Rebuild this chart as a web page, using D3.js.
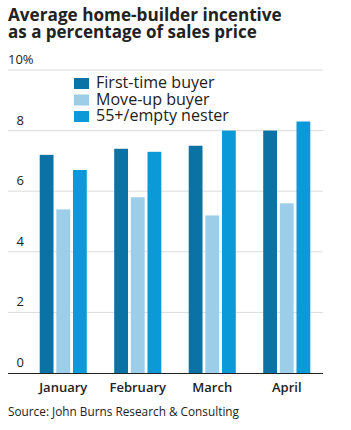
<!DOCTYPE html>
<html><head><meta charset="utf-8">
<script src="https://cdn.jsdelivr.net/npm/d3@7"></script>
<style>body{margin:0;background:#fff}svg{display:block}</style>
</head><body>
<script>
const categories = ["January", "February", "March", "April"];
const seriesNames = ["First-time buyer", "Move-up buyer", "55+/empty nester"];
const firstTime = [7.2, 7.4, 7.5, 8.0];
const moveUp = [5.4, 5.8, 5.2, 5.6];
const emptyNester = [6.7, 7.3, 8.0, 8.3];
const yTicks = [0, 2, 4, 6, 8, 10];
const colors = ["#0b72a6", "#9ccde9", "#0b9ad7"];
const titleLines = ["Average home-builder incentive", "as a percentage of sales price"];
const source = "Source: John Burns Research & Consulting";

const W = 351, H = 430;
const font = "'Open Sans', 'Noto Sans', sans-serif";
const svg = d3.select("body").append("svg").attr("width", W).attr("height", H);

function fit(sel, target) {
  const n = sel.node();
  const fs = parseFloat(sel.attr("font-size"));
  const w = n.getComputedTextLength();
  sel.attr("font-size", (fs * target / w).toFixed(2));
}

const series = [firstTime, moveUp, emptyNester];
const x0 = d3.scaleBand().domain(categories).range([26, 324]).paddingInner(0.368).paddingOuter(0.184);
const x1 = d3.scaleBand().domain(d3.range(3)).range([0, x0.bandwidth()]).paddingInner(0.17);
const y = d3.scaleLinear().domain([0, 10]).range([373, 70]);

// title
titleLines.forEach((t, i) => {
  const s = svg.append("text").attr("x", 8).attr("y", 21 + i * 17)
    .attr("font-family", font).attr("font-weight", 700).attr("font-size", 16)
    .attr("fill", "#222").text(t);
  fit(s, i === 0 ? 274 : 249);
});

// grid
const g = svg.append("g");
g.selectAll("line.grid").data(yTicks.filter(d => d > 0)).join("line")
  .attr("x1", 8).attr("x2", 323).attr("y1", d => y(d)).attr("y2", d => y(d))
  .attr("stroke", "#dcdcdc").attr("stroke-width", 1);

g.selectAll("text.tick").data(yTicks).join("text")
  .attr("x", d => d === 10 ? 8 : 24).attr("y", d => y(d) - 6)
  .attr("text-anchor", d => d === 10 ? "start" : "end")
  .attr("font-family", font).attr("font-size", 13).attr("fill", "#222")
  .text(d => d === 10 ? "10%" : d);

// bars
categories.forEach((c, ci) => {
  svg.selectAll("rect.b" + ci).data(series.map((s, si) => ({si, v: s[ci]}))).join("rect")
    .attr("x", d => x0(c) + x1(d.si)).attr("width", x1.bandwidth())
    .attr("y", d => y(d.v)).attr("height", d => y(0) - y(d.v))
    .attr("fill", d => colors[d.si]);
});

// baseline
svg.append("line").attr("x1", 8).attr("x2", 323).attr("y1", y(0) + 0.5).attr("y2", y(0) + 0.5)
  .attr("stroke", "#222").attr("stroke-width", 1);

// x labels
svg.selectAll("text.xl").data(categories).join("text")
  .attr("x", d => x0(d) + x0.bandwidth() / 2).attr("y", 392)
  .attr("text-anchor", "middle").attr("font-family", font).attr("font-weight", 600)
  .attr("font-size", 13).attr("fill", "#222").text(d => d);

// legend
const lg = svg.append("g");
seriesNames.forEach((n, i) => {
  lg.append("rect").attr("x", 74).attr("y", 78 + i * 16.5).attr("width", 15).attr("height", 11)
    .attr("fill", colors[i]);
  const t = lg.append("text").attr("x", 96).attr("y", 88 + i * 16.5)
    .attr("font-family", font).attr("font-size", 14).attr("fill", "#222").text(n);
  if (i === 2) fit(t, 133);
});
const lfs = lg.selectAll("text").filter((d, i) => i === 2).attr("font-size");
lg.selectAll("text").attr("font-size", lfs);

// source
const s = svg.append("text").attr("x", 8).attr("y", 416).attr("font-family", font)
  .attr("font-size", 11).attr("fill", "#222").text(source);
fit(s, 231);
</script>
</body></html>
